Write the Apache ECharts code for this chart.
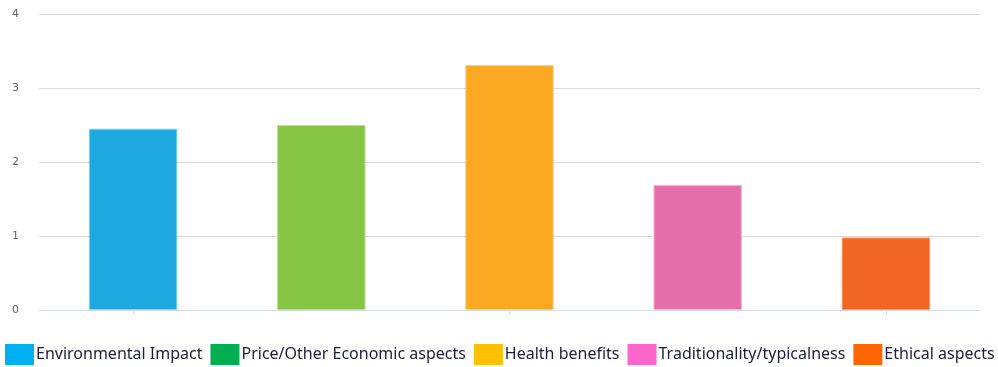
<!DOCTYPE html>
<html>
<head>
<meta charset="utf-8">
<script src="https://cdn.jsdelivr.net/npm/echarts@6/dist/echarts.min.js"></script>
<style>
  html, body { margin: 0; padding: 0; background: #fff; }
  #chart { width: 998px; height: 367px; }
</style>
</head>
<body>
<div id="chart"></div>
<script>
const categories = ['Environmental Impact', 'Price/Other Economic aspects', 'Health benefits', 'Traditionality/typicalness', 'Ethical aspects']
const values = [2.45, 2.5, 3.31, 1.69, 0.98]
const barColors = ['#1fa8df', '#88c545', '#fba923', '#e46fa9', '#f26625']
const barBorders = ['#7fd3f5', '#b6e58a', '#ffd27a', '#ffb0dc', '#ff9a5e']
const legendColors = ['#00b0f0', '#00b050', '#ffc000', '#ff66cc', '#ff6600']
const yTicks = [0, 1, 2, 3, 4]

const mChart = echarts.init(document.getElementById('chart'))

function getSeries() {
  let series = []
  categories.forEach((name, index) => {
    series.push({
      name: name,
      type: 'bar',
      stack: 'all',
      barWidth: '47%',
      itemStyle: {
        color: barColors[index],
        borderColor: barBorders[index],
        borderWidth: 1
      },
      data: categories.map((c, i) => i === index ? values[index] : '-')
    })
  })
  return series
}

const options = {
  animation: false,
  grid: {
    left: 39,
    right: 18,
    top: 14,
    bottom: 57
  },
  legend: {
    left: 5,
    top: 344,
    width: 1100,
    padding: 0,
    itemWidth: 29,
    itemHeight: 21,
    itemGap: 8,
    icon: 'rect',
    textStyle: {
      fontFamily: 'Noto Sans',
      fontSize: 16,
      color: '#1c1c3c',
      padding: [0, 0, 0, -3]
    },
    data: categories.map((name, i) => ({
      name: name,
      itemStyle: {color: legendColors[i], borderWidth: 0}
    }))
  },
  xAxis: {
    type: 'category',
    data: categories,
    axisLine: {lineStyle: {color: '#d6dde6'}},
    axisTick: {show: true, alignWithLabel: true, length: 4, lineStyle: {color: '#d6dde6'}},
    axisLabel: {show: false}
  },
  yAxis: {
    type: 'value',
    min: yTicks[0],
    max: yTicks[yTicks.length - 1],
    interval: 1,
    axisLine: {show: false},
    axisTick: {show: false},
    axisLabel: {
      margin: 20,
      color: '#666',
      fontSize: 11,
      fontFamily: 'DejaVu Sans'
    },
    splitLine: {lineStyle: {color: '#d9d9d9'}}
  },
  series: getSeries()
}

mChart.setOption(options)
</script>
</body>
</html>
